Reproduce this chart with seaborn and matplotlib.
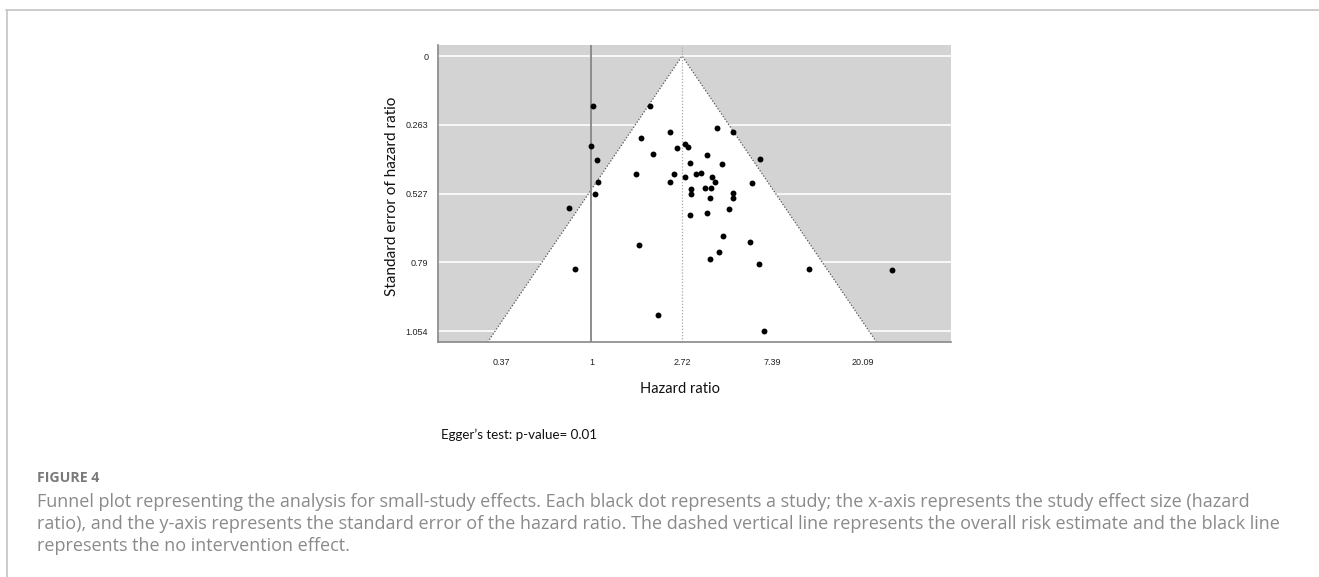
import numpy as np
import pandas as pd
import matplotlib
matplotlib.use("Agg")
import matplotlib.pyplot as plt
from matplotlib.lines import Line2D
import seaborn as sns

# ---- data ----
hazard_ratio = [1.90, 2.39, 4.00, 4.77, 1.73, 2.82, 2.90, 2.56, 1.97, 3.58,
                6.43, 2.96, 4.24, 1.64, 2.48, 3.18, 3.34, 2.80, 3.80, 3.93,
                2.39, 5.88, 1.08, 3.01, 3.49, 3.76, 3.01, 4.79, 4.79, 3.70,
                4.55, 2.98, 3.58, 1.69, 4.29, 5.78, 4.10, 3.70, 6.34, 11.05,
                27.66, 1.02, 1.00, 1.06, 1.04, 0.78, 0.83, 2.08, 6.75]
std_error = [0.192, 0.292, 0.277, 0.292, 0.313, 0.335, 0.348, 0.351, 0.374, 0.379,
             0.396, 0.410, 0.415, 0.450, 0.453, 0.451, 0.447, 0.465, 0.465, 0.483,
             0.483, 0.488, 0.482, 0.510, 0.507, 0.505, 0.529, 0.524, 0.545, 0.545,
             0.584, 0.609, 0.603, 0.722, 0.691, 0.713, 0.749, 0.779, 0.798, 0.814,
             0.818, 0.190, 0.345, 0.400, 0.528, 0.581, 0.815, 0.993, 1.054]
pooled_hr = 2.72
null_hr = 1.0
x_tick_values = [0.37, 1, 2.72, 7.39, 20.09]
x_tick_labels = ["0.37", "1", "2.72", "7.39", "20.09"]
y_tick_values = [0, 0.2635, 0.527, 0.7905, 1.054]
y_tick_labels = ["0", "0.263", "0.527", "0.79", "1.054"]

df = pd.DataFrame({"hr": hazard_ratio, "se": std_error})

sns.set_theme(style="white")
plt.rcParams["font.family"] = ["Liberation Sans", "DejaVu Sans"]

W, H = 1319, 577
fig = plt.figure(figsize=(W / 100, H / 100), dpi=100)
ax = fig.add_axes([438 / W, 1 - 342.3 / H, (951 - 438) / W, (342.3 - 45) / H])

# limits (R-style 4% expansion)
se_max = max(std_error)
ylo, yhi = -0.04 * se_max, 1.04 * se_max
xlo, xhi = np.exp(-1.695), np.exp(3.97)
ax.set_xscale("log")
ax.set_xlim(xlo, xhi)
ax.set_ylim(yhi, ylo)

ax.set_facecolor("#d3d3d3")
ln_ref = np.log(pooled_hr)
funnel_x = [np.exp(ln_ref - 1.96 * yhi), np.exp(ln_ref), np.exp(ln_ref + 1.96 * yhi)]
funnel_y = [yhi, 0, yhi]
ax.fill(funnel_x, funnel_y, color="white", zorder=1, lw=0)
for yv in y_tick_values:
    ax.axhline(yv, color="white", lw=1.2, zorder=0.9)
ax.plot(funnel_x, funnel_y, color="#555555", lw=0.9, ls=(0, (1, 1.5)), zorder=2)
ax.axvline(pooled_hr, color="#a8a8a8", lw=0.9, ls=(0, (1, 1.5)), zorder=2)
ax.axvline(null_hr, color="#8c8c8c", lw=1.4, zorder=2)

sns.scatterplot(data=df, x="hr", y="se", ax=ax, color="black", s=18,
                edgecolor="black", linewidth=0, zorder=3, legend=False)

ax.set_xticks(x_tick_values)
ax.set_xticklabels(x_tick_labels)
ax.minorticks_off()
ax.set_yticks(y_tick_values)
ax.set_yticklabels(y_tick_labels)
ax.set_xlabel("")
ax.set_ylabel("")
ax.tick_params(axis="both", labelsize=6.5, colors="#444444", length=5, width=0.8,
               direction="out")
ax.tick_params(axis="x", pad=6, labelcolor="#222222", color="#777777")
ax.tick_params(axis="y", pad=2, labelcolor="#222222", color="#777777")
for side in ["top", "right"]:
    ax.spines[side].set_visible(False)
for side in ["left", "bottom"]:
    ax.spines[side].set_color("#888888")
    ax.spines[side].set_linewidth(1.2)

label_font = ["Lato", "DejaVu Sans"]
fig.text(392 / W, 1 - 196 / H, "Standard error of hazard ratio", rotation=90,
         ha="center", va="center", fontsize=11, family=label_font, color="#111111")
fig.text(680 / W, 1 - 389 / H, "Hazard ratio", ha="center", va="center",
         fontsize=10.5, family=label_font, color="#111111")
fig.text(441 / W, 1 - 435 / H, "Egger\u2019s test: p-value= 0.01", ha="left", va="center",
         fontsize=9.6, family=label_font, color="#111111")

cap_font = ["Open Sans", "DejaVu Sans"]
fig.text(37 / W, 1 - 478 / H, "FIGURE 4", ha="left", va="center", fontsize=10.2,
         family=cap_font, color="#7a7a7a", fontweight="bold")
cap_lines = [
    "Funnel plot representing the analysis for small-study effects. Each black dot represents a study; the x-axis represents the study effect size (hazard",
    "ratio), and the y-axis represents the standard error of the hazard ratio. The dashed vertical line represents the overall risk estimate and the black line",
    "represents the no intervention effect.",
]
for i, line in enumerate(cap_lines):
    fig.text(37 / W, 1 - (502 + 22 * i) / H, line, ha="left", va="center",
             fontsize=13, family=cap_font, color="#8a8a8a")

# card border
fig.add_artist(Line2D([6 / W, 1], [1 - 10 / H, 1 - 10 / H], color="#c4c4c4", lw=1.2))
fig.add_artist(Line2D([6.5 / W, 6.5 / W], [1 - 10 / H, 0], color="#c4c4c4", lw=1.2))

fig.savefig("out.png", dpi=100)
